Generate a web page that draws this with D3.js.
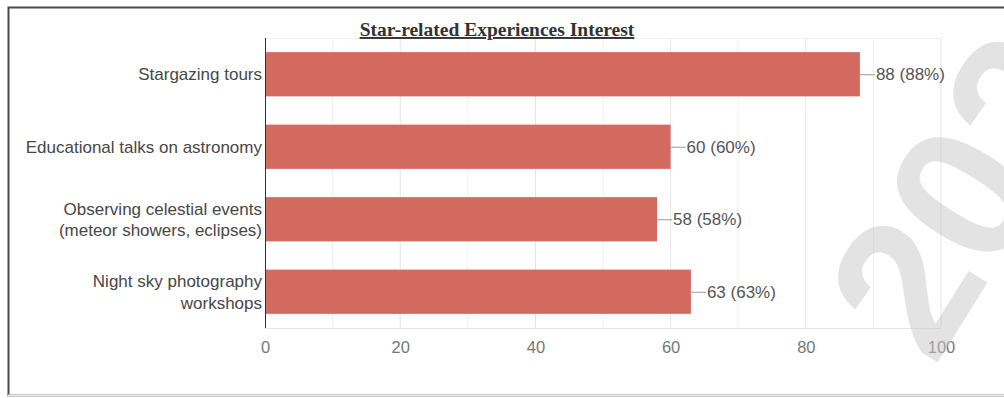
<!DOCTYPE html>
<html>
<head>
<meta charset="utf-8">
<script src="https://cdn.jsdelivr.net/npm/d3@7/dist/d3.min.js"></script>
<style>
  html, body { margin: 0; padding: 0; background: #fff; }
  svg { display: block; }
</style>
</head>
<body>
<svg id="chart" width="1004" height="398"></svg>
<script>
// Survey results: interest in star-related experiences
const categories = [
  ["Stargazing tours"],
  ["Educational talks on astronomy"],
  ["Observing celestial events", "(meteor showers, eclipses)"],
  ["Night sky photography", "workshops"]
];
const values = [88, 60, 58, 63];
const percents = [88, 60, 58, 63];
const xTicks = [0, 20, 40, 60, 80, 100];
const xGrid = [10, 20, 30, 40, 50, 60, 70, 80, 90, 100];
const title = "Star-related Experiences Interest";
const watermark = "2024";

const svg = d3.select("#chart");
const W = 1004, H = 398;
const margin = { left: 265, right: 63, top: 38, bottom: 70 };
const plotW = W - margin.left - margin.right;
const plotH = H - margin.top - margin.bottom;
const sans = "Arial, 'Liberation Sans', sans-serif";

// outer frame
svg.append("rect")
  .attr("x", 8.5).attr("y", 7.5)
  .attr("width", W).attr("height", 388)
  .attr("fill", "#fff")
  .attr("stroke", "#4a4a4a").attr("stroke-width", 2);
svg.append("line")
  .attr("x1", 8).attr("x2", W).attr("y1", 395.5).attr("y2", 395.5)
  .attr("stroke", "#eee").attr("stroke-width", 2);

const x = d3.scaleLinear().domain([0, 100]).range([0, plotW]);
const y = d3.scaleBand().domain(d3.range(categories.length))
  .range([0, plotH]).paddingInner(0.39).paddingOuter(0.195);

const g = svg.append("g").attr("transform", `translate(${margin.left},${margin.top})`);

// light grid
g.append("g").selectAll("line").data(xGrid).join("line")
  .attr("x1", d => x(d)).attr("x2", d => x(d))
  .attr("y1", 0).attr("y2", plotH)
  .attr("stroke", d => d % 20 === 0 ? "#e4e4e4" : "#f0f0f0")
  .attr("stroke-width", 1);
g.append("line")
  .attr("x1", 0).attr("x2", plotW).attr("y1", 0.5).attr("y2", 0.5)
  .attr("stroke", "#f0f0f0");
g.append("line")
  .attr("x1", 0).attr("x2", plotW).attr("y1", plotH + 0.5).attr("y2", plotH + 0.5)
  .attr("stroke", "#e6e6e6");

// bars
g.append("g").selectAll("rect").data(values).join("rect")
  .attr("x", x(0))
  .attr("y", (d, i) => y(i))
  .attr("width", d => x(d) - x(0))
  .attr("height", y.bandwidth())
  .attr("fill", "#d26a60");

// value labels with leader lines
const lab = g.append("g").selectAll("g").data(values).join("g")
  .attr("transform", (d, i) => `translate(${x(d)},${y(i) + y.bandwidth() / 2})`);
lab.append("line")
  .attr("x1", 0).attr("x2", 15).attr("y1", 0.5).attr("y2", 0.5)
  .attr("stroke", "#999").attr("stroke-width", 1);
lab.append("text")
  .attr("x", 16).attr("dy", "0.36em")
  .attr("font-family", sans)
  .attr("font-size", 17)
  .attr("fill", "#555")
  .text((d, i) => `${d} (${percents[i]}%)`);

// x axis tick labels
const xAxis = d3.axisBottom(x).tickValues(xTicks).tickSize(0).tickPadding(13);
const xa = g.append("g").attr("transform", `translate(0,${plotH})`).call(xAxis);
xa.select(".domain").remove();
xa.selectAll("text")
  .attr("font-family", sans)
  .attr("font-size", 16.5)
  .attr("fill", "#777");

// y axis with wrapped category labels
const yAxis = d3.axisLeft(y).tickSize(0).tickFormat(() => "");
const ya = g.append("g").call(yAxis);
ya.select(".domain").attr("stroke", "#333").attr("d", `M0.5,0V${plotH}`);
ya.selectAll(".tick").each(function (i) {
  const lines = categories[i];
  const t = d3.select(this).append("text")
    .attr("x", -3)
    .attr("text-anchor", "end")
    .attr("font-family", sans)
    .attr("font-size", 17)
    .attr("fill", "#474747");
  const lh = 21.5;
  lines.forEach((s, k) => {
    t.append("tspan")
      .attr("x", -3)
      .attr("y", (k - (lines.length - 1) / 2) * lh)
      .attr("dy", "0.36em")
      .text(s);
  });
});

// title
svg.append("text")
  .attr("x", 497).attr("y", 36)
  .attr("text-anchor", "middle")
  .attr("font-family", "'Liberation Serif', 'Times New Roman', serif")
  .attr("font-weight", "bold")
  .attr("font-size", 19.5)
  .attr("text-decoration", "underline")
  .attr("fill", "#333")
  .text(title);

// faint watermark
svg.append("text")
  .attr("transform", "translate(934,368) rotate(-58)")
  .attr("font-family", sans)
  .attr("font-weight", "bold")
  .attr("font-size", 195)
  .attr("fill", "#c8c8c8")
  .attr("opacity", 0.5)
  .text(watermark);
</script>
</body>
</html>
